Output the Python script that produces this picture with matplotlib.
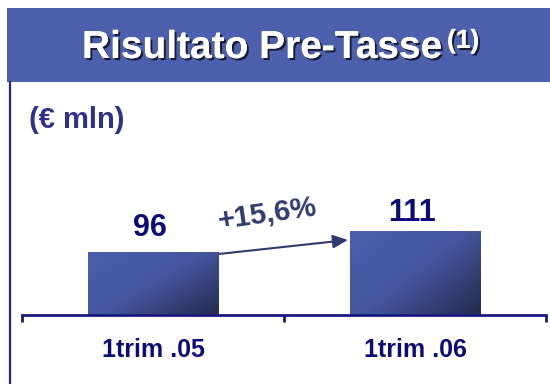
import numpy as np
import matplotlib
matplotlib.use("Agg")
import matplotlib.pyplot as plt
from matplotlib.colors import LinearSegmentedColormap
from matplotlib.patches import Rectangle
import matplotlib.patheffects as pe

plt.rcParams['font.family'] = ['Liberation Sans', 'DejaVu Sans']

# data
categories = ["1trim .05", "1trim .06"]
values = [96, 111]
growth_label = "+15,6%"
title = "Risultato Pre-Tasse"
title_note = "(1)"
unit_label = "(€ mln)"

navy = "#0B0B7A"
banner_blue = "#4D60AD"
arrow_col = "#2F3B6E"

W, H = 550, 384
fig = plt.figure(figsize=(5.5, 3.84), dpi=100)

# title banner
fig.patches.append(Rectangle((7/W, 1 - 82/H), 1 - 7/W, 74/H,
                             transform=fig.transFigure, facecolor=banner_blue,
                             edgecolor="none", zorder=0))
shadow = [pe.withSimplePatchShadow(offset=(1.5, -1.5), shadow_rgbFace="black", alpha=0.7), pe.Normal()]
fig.text(82/W, 1 - 58/H, title, color="white", fontsize=28, fontweight="bold",
         ha="left", va="baseline", path_effects=shadow)
fig.text(447/W, 1 - 48/H, title_note, color="white", fontsize=19, fontweight="bold",
         ha="left", va="baseline", path_effects=shadow)

# left vertical rule
fig.add_artist(plt.Line2D([10/W, 10/W], [0, 1 - 82/H], transform=fig.transFigure,
                          color="#24248F", linewidth=1.6))

fig.text(29/W, 1 - 128/H, unit_label, color="#2E3192", fontsize=21,
         fontweight="bold", ha="left", va="baseline")

# chart axes: 1.4 px per unit, baseline at 51
ax = fig.add_axes([22/W, (H - 315)/H, 524/W, 155/H])
x = np.arange(len(categories))
bars = ax.bar(x, values, width=0.5, facecolor="none", edgecolor="none")

ymin, ymax = 51, 51 + 155/1.4
cmap = LinearSegmentedColormap.from_list("bar", ["#4B5EAD", "#45569F", "#242B4E"])
gy, gx = np.mgrid[0:1:100j, 0:1:100j]
grad = gx * 0.55 + gy * 0.45
label_gap = [11.4, 7.2]
for rect, v, gap in zip(bars, values, label_gap):
    x0 = rect.get_x()
    x1 = x0 + rect.get_width()
    im = ax.imshow(grad, extent=(x0, x1, ymin, v), origin="upper", cmap=cmap,
                   aspect="auto", zorder=2)
    im.set_clip_path(rect)
    ax.text(x0 + rect.get_width() / 2 - 0.01, v + gap, str(v), ha="center",
            va="baseline", fontsize=22, fontweight="bold", color=navy)

ax.set_xlim(-0.5, len(categories) - 0.5)
ax.set_ylim(ymin, ymax)

for s in ["top", "right", "left"]:
    ax.spines[s].set_visible(False)
ax.spines["bottom"].set_color("#1A1A80")
ax.spines["bottom"].set_linewidth(2)
ax.set_yticks([])
ax.set_xticks([-0.5, 0.5, 1.5])
ax.set_xticklabels([])
ax.tick_params(axis="x", direction="out", length=5, width=2, color="#1A1A80")

# category labels below the axis
for xi, c in zip(x, categories):
    ax.text(xi, ymin - 30, c, ha="center", va="baseline", fontsize=18,
            fontweight="bold", color=navy, clip_on=False)

# growth arrow
ax.annotate("", xy=(0.744, 104.6), xytext=(0.252, 94.6),
            arrowprops=dict(arrowstyle="-|>,head_length=0.9,head_width=0.4",
                            color=arrow_col, lw=1.5, shrinkA=0, shrinkB=0))
ax.text(0.435, 123.1, growth_label, rotation=8, ha="center", va="center",
        fontsize=21, fontweight="bold", color=arrow_col)

fig.savefig("out.png", dpi=100)
